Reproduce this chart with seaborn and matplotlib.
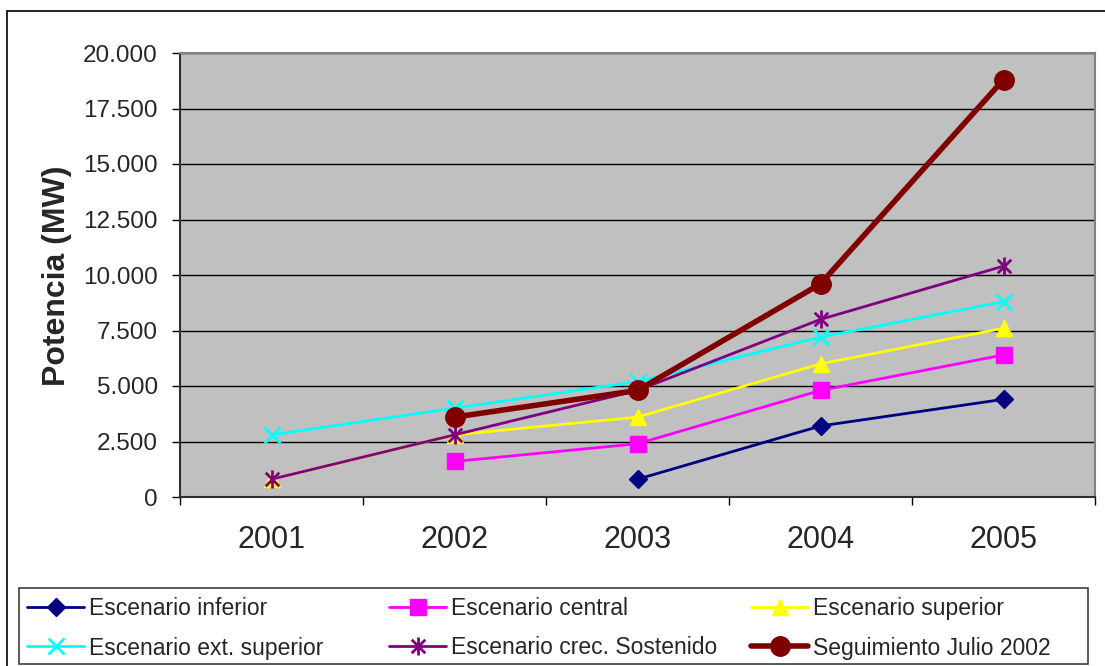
import matplotlib
matplotlib.use("Agg")
import matplotlib.pyplot as plt
import seaborn as sns
import pandas as pd
import numpy as np
from matplotlib.path import Path
from matplotlib.patches import Rectangle
from matplotlib.ticker import FuncFormatter, FixedLocator

years = ["2001", "2002", "2003", "2004", "2005"]
series_names = ["Escenario inferior", "Escenario central", "Escenario superior",
                "Escenario ext. superior", "Escenario crec. Sostenido",
                "Seguimiento Julio 2002"]
inferior = [None, None, 800, 3200, 4400]
central = [None, 1600, 2400, 4800, 6400]
superior = [800, 2800, 3600, 6000, 7600]
ext_superior = [2800, 4000, 5200, 7200, 8800]
crec_sostenido = [800, 2800, 4800, 8000, 10400]
seguimiento = [None, 3600, 4800, 9600, 18800]
yticks = [0, 2500, 5000, 7500, 10000, 12500, 15000, 17500, 20000]

sns.set_theme(style="white")
plt.rcParams["font.family"] = ["Liberation Sans", "DejaVu Sans"]

W, H = 1105, 666
fig = plt.figure(figsize=(W / 100, H / 100), dpi=100)
ax = fig.add_axes([180 / W, 1 - 497 / H, 915 / W, 444 / H])
ax.set_facecolor("#C0C0C0")

star = Path([(0, -1), (0, 1), (-0.75, -0.75), (0.75, 0.75), (-0.75, 0.75), (0.75, -0.75)],
            [Path.MOVETO, Path.LINETO] * 3)

styles = [
    (inferior, "#000080", "D", 9, 2.0, 1.0),
    (central, "#FF00FF", "s", 11, 2.0, 1.0),
    (superior, "#FFFF00", "^", 11, 2.0, 1.0),
    (ext_superior, "#00FFFF", "x", 12, 2.0, 2.0),
    (crec_sostenido, "#800080", star, 13, 2.0, 2.0),
    (seguimiento, "#800000", "o", 14, 4.0, 1.0),
]

xs = np.arange(len(years))
for name, (vals, col, mk, ms, lw, mew) in zip(series_names, styles):
    df = pd.DataFrame({"x": xs, "y": [np.nan if v is None else v for v in vals]}).dropna()
    sns.lineplot(data=df, x="x", y="y", ax=ax, color=col, marker=mk, markersize=ms,
                 linewidth=lw, markeredgecolor=col, markerfacecolor=col,
                 markeredgewidth=mew, label=name, legend=False, zorder=3)

ax.set_xlim(-0.5, 4.5)
ax.set_ylim(0, 20000)
ax.set_yticks(yticks)
ax.yaxis.set_major_formatter(FuncFormatter(lambda v, p: f"{v:,.0f}".replace(",", ".")))
ax.grid(axis="y", color="black", linewidth=1.0)
ax.grid(axis="x", visible=False)
ax.set_axisbelow(True)

ax.xaxis.set_major_locator(FixedLocator([-0.5, 0.5, 1.5, 2.5, 3.5, 4.5]))
ax.xaxis.set_minor_locator(FixedLocator(list(xs)))
ax.set_xticklabels([], minor=False)
ax.set_xticklabels(years, minor=True, fontsize=22)
ax.tick_params(axis="x", which="major", direction="out", length=6, width=1, color="black", bottom=True)
ax.tick_params(axis="x", which="minor", length=0, pad=20)
ax.tick_params(axis="y", direction="out", length=6, width=1, color="black", left=True,
               labelsize=17.5, pad=10)

for s in ["top", "right"]:
    ax.spines[s].set_color("#808080")
    ax.spines[s].set_linewidth(1.5)
for s in ["left", "bottom"]:
    ax.spines[s].set_color("#303030")
    ax.spines[s].set_linewidth(1.5)

ax.set_xlabel("")
ax.set_ylabel("Potencia (MW)", fontsize=23, fontweight="bold")
ax.yaxis.set_label_coords((72 - 180) / 915, (497 - 276) / 444)

handles, labels = ax.get_legend_handles_labels()
col_x = [27, 389, 751]
for c, x0 in enumerate(col_x):
    idx = [c, c + 3]
    fig.legend([handles[i] for i in idx], [labels[i] for i in idx],
               loc="upper left", bbox_to_anchor=(x0 / W, 1 - 597 / H),
               fontsize=16.5, frameon=False, borderaxespad=0, borderpad=0,
               handlelength=2.5, handletextpad=0.2, labelspacing=0.72)

fig.patches.append(Rectangle((19 / W, 1 - 664 / H), (1088 - 19) / W, 76 / H,
                             transform=fig.transFigure, fill=False,
                             edgecolor="#404040", linewidth=1.2, figure=fig))
fig.patches.append(Rectangle((7 / W, -0.1), 1.2, 1.1 - 11 / H, transform=fig.transFigure,
                             fill=False, edgecolor="black", linewidth=1.2, figure=fig))

fig.savefig("out.png", dpi=100, facecolor="white")
